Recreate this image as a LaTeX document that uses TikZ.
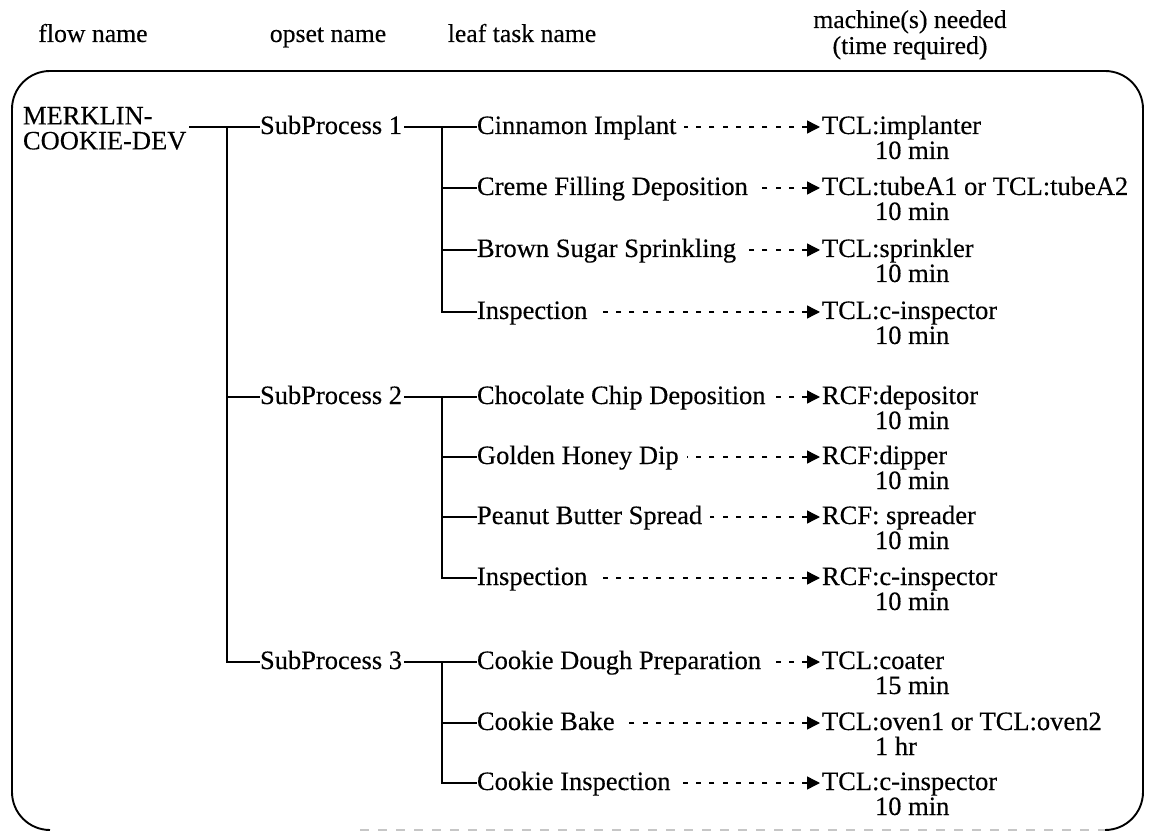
\documentclass[tikz,border=0pt]{standalone}
\usepackage{fontspec}
\setmainfont{Liberation Serif}
\newfontfamily\printfont[FakeBold=0.3]{Liberation Serif}
\usetikzlibrary{arrows.meta}
\begin{document}
\begin{tikzpicture}[x=1pt,y=-1pt,
  every node/.style={inner sep=0pt, outer sep=0pt, font=\printfont\fontsize{26.5}{25}\selectfont},
  lbl/.style={anchor=base west},
  head/.style={anchor=base, font=\printfont\fontsize{25.7}{24}\selectfont},
  tm/.style={anchor=base west},
  tree/.style={line width=1.7pt},
  frame/.style={line width=1.9pt, line join=round},
  leader/.style={line width=1.4pt, dash pattern=on 5pt off 8.3pt,
    arrows={Triangle[length=13pt,width=13pt]-}},
]
\useasboundingbox (0,0) rectangle (1149,834);

% column headings
\node[head] (hflow)  at (93,42)  {flow name};
\node[head] (hopset) at (328,42) {opset name};
\node[head] (hleaf)  at (522,42) {leaf task name};
\node[head] (hmach)  at (910,28) {machine(s) needed};
\node[head] (htime)  at (910,54) {(time required)};

% outer frame (bottom edge only faintly printed)
\draw[frame, rounded corners=38pt]
  (50,830) -- (12,830) -- (12,71) -- (1143,71) -- (1143,830) -- (1105,830);
\draw[gray!45, line width=1.4pt, dash pattern=on 9pt off 9pt] (360,830) -- (1105,830);

% flow
\node[anchor=north west, align=left] (root) at (23,107) {MERKLIN-\\COOKIE-DEV};

% opsets
\node[lbl] (sp1) at (260,134) {SubProcess 1};
\node[lbl] (sp2) at (260,404) {SubProcess 2};
\node[lbl] (sp3) at (260,669) {SubProcess 3};

% leaf tasks
\node[lbl] (l1)  at (477,134) {Cinnamon Implant};
\node[lbl] (l2)  at (477,195) {Creme Filling Deposition};
\node[lbl] (l3)  at (477,257) {Brown Sugar Sprinkling};
\node[lbl] (l4)  at (477,319) {Inspection};
\node[lbl] (l5)  at (477,404) {Chocolate Chip Deposition};
\node[lbl] (l6)  at (477,464) {Golden Honey Dip};
\node[lbl] (l7)  at (477,524) {Peanut Butter Spread};
\node[lbl] (l8)  at (477,585) {Inspection};
\node[lbl] (l9)  at (477,669) {Cookie Dough Preparation};
\node[lbl] (l10) at (477,730) {Cookie Bake};
\node[lbl] (l11) at (477,790) {Cookie Inspection};

% machines
\node[lbl] (m1)  at (822,134) {TCL:implanter};
\node[lbl] (m2)  at (822,195) {TCL:tubeA1 or TCL:tubeA2};
\node[lbl] (m3)  at (822,257) {TCL:sprinkler};
\node[lbl] (m4)  at (822,319) {TCL:c-inspector};
\node[lbl] (m5)  at (822,404) {RCF:depositor};
\node[lbl] (m6)  at (822,464) {RCF:dipper};
\node[lbl] (m7)  at (822,524) {RCF: spreader};
\node[lbl] (m8)  at (822,585) {RCF:c-inspector};
\node[lbl] (m9)  at (822,669) {TCL:coater};
\node[lbl] (m10) at (822,730) {TCL:oven1 or TCL:oven2};
\node[lbl] (m11) at (822,790) {TCL:c-inspector};

% times
\node[tm] (t1)  at (875,159) {10 min};
\node[tm] (t2)  at (875,220) {10 min};
\node[tm] (t3)  at (875,282) {10 min};
\node[tm] (t4)  at (875,344) {10 min};
\node[tm] (t5)  at (875,429) {10 min};
\node[tm] (t6)  at (875,489) {10 min};
\node[tm] (t7)  at (875,549) {10 min};
\node[tm] (t8)  at (875,610) {10 min};
\node[tm] (t9)  at (875,694) {15 min};
\node[tm] (t10) at (875,755) {1 hr};
\node[tm] (t11) at (875,815) {10 min};

% tree connectors
\coordinate (trunk) at (227,127);
\draw[tree] ([xshift=3pt]root.east |- trunk) -- ([yshift=7pt]sp1.base west);
\draw[tree] (trunk) |- ([yshift=7pt]sp3.base west);
\draw[tree] (trunk |- sp2.base) ++(0,-7) -- ([yshift=7pt]sp2.base west);

\coordinate (g1) at (442,127);
\coordinate (g2) at (442,397);
\coordinate (g3) at (442,662);

\draw[tree] ([xshift=2pt,yshift=7pt]sp1.base east) -- ([yshift=7pt]l1.base west);
\draw[tree] (g1) |- ([yshift=7pt]l4.base west);
\foreach \n in {l2,l3}
  \draw[tree] ([yshift=7pt]\n.base west -| g1) -- ([yshift=7pt]\n.base west);

\draw[tree] ([xshift=2pt,yshift=7pt]sp2.base east) -- ([yshift=7pt]l5.base west);
\draw[tree] (g2) |- ([yshift=7pt]l8.base west);
\foreach \n in {l6,l7}
  \draw[tree] ([yshift=7pt]\n.base west -| g2) -- ([yshift=7pt]\n.base west);

\draw[tree] ([xshift=2pt,yshift=7pt]sp3.base east) -- ([yshift=7pt]l9.base west);
\draw[tree] (g3) |- ([yshift=7pt]l11.base west);
\draw[tree] ([yshift=7pt]l10.base west -| g3) -- ([yshift=7pt]l10.base west);

% leaders from leaf task to machine
\foreach \i in {1,...,11}
  \draw[leader] ([xshift=-2pt,yshift=7pt]m\i.base west) -- ([xshift=8pt,yshift=7pt]l\i.base east);
\end{tikzpicture}
\end{document}
